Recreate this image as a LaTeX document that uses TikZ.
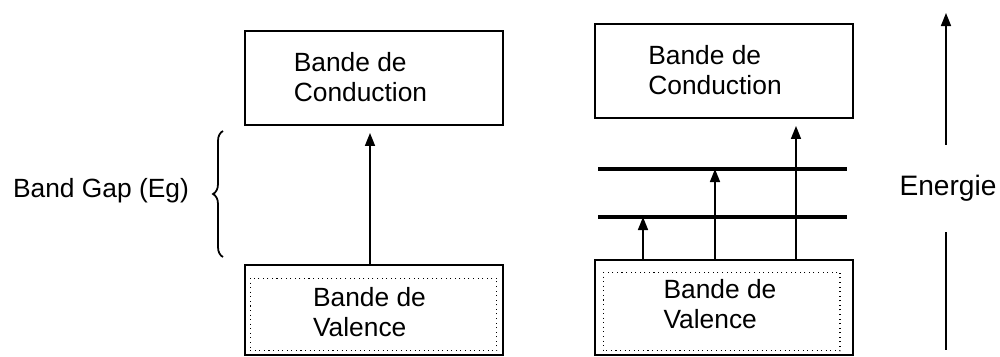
\documentclass[tikz,border=0pt]{standalone}
\usepackage{fontspec}
\setmainfont{Liberation Sans}
\usetikzlibrary{arrows.meta,decorations.pathreplacing}

\tikzset{
  bandbox/.style={draw, line width=1.1pt, minimum width=\boxwidth, minimum height=1.88cm, inner sep=0pt},
  bandtext/.style={align=left, inner sep=0pt, font=\fontsize{15}{17}\selectfont},
  level/.style={line width=1.8pt},
  jump/.style={line width=0.9pt, -{Triangle[length=0.26cm,width=0.2cm]}},
}

\begin{document}
\begin{tikzpicture}

% Define the width of the blocks
\def\boxwidth{5.16cm}

\useasboundingbox (0,0) rectangle (20,7.12);

% Draw left conduction block
\node[bandbox] (condA) at (7.48,5.56) {};
\node[bandtext] (condAtext) at (7.21,5.58) {Bande de\\Conduction};

% Draw left valence block
\node[bandbox, minimum height=1.8cm] (valA) at (7.48,0.92) {};
\draw[dotted, line width=0.6pt] ([shift={(0.12,-0.28)}]valA.north west) rectangle ([shift={(-0.14,0.1)}]valA.south east);
\node[bandtext] (valAtext) at (7.39,0.88) {Bande de\\Valence};

% Arrow across the gap
\draw[jump, shorten >=0.14cm] (valA.north -| 7.40,0) -- (condA.south -| 7.40,0);

% Brace and label for the gap
\draw[line width=1pt, decorate, decoration={brace, amplitude=0.2cm}] (4.46,1.98) -- (4.46,4.50);
\node[font=\fontsize{15}{17}\selectfont] (gap) at (2.02,3.30) {Band Gap (Eg)};

% Draw right conduction block
\node[bandbox] (condB) at (14.48,5.70) {};
\node[bandtext] (condBtext) at (14.30,5.72) {Bande de\\Conduction};

% Draw right valence block
\node[bandbox, minimum height=1.9cm] (valB) at (14.48,0.97) {};
\draw[dotted, line width=0.6pt] ([shift={(0.18,-0.26)}]valB.north west) rectangle ([shift={(-0.28,0.1)}]valB.south east);
\node[bandtext] (valBtext) at (14.40,1.04) {Bande de\\Valence};

% Intermediate levels
\coordinate (lowW) at (11.96,2.78);
\coordinate (lowE) at (16.94,2.78);
\coordinate (highW) at (11.96,3.74);
\coordinate (highE) at (16.94,3.74);
\draw[level] (lowW) -- (lowE);
\draw[level] (highW) -- (highE);

% Arrows from the valence band
\draw[jump] (valB.north -| 12.86,0) -- (lowW -| 12.86,0);
\draw[jump] (valB.north -| 14.30,0) -- (highW -| 14.30,0);
\draw[jump, shorten >=0.14cm] (valB.north -| 15.92,0) -- (condB.south -| 15.92,0);

% Energy axis
\node[font=\fontsize{16}{18}\selectfont, minimum height=1.74cm, inner sep=0pt] (energy) at (18.96,3.35) {Energie};
\coordinate (energyTop) at (18.92,6.86);
\coordinate (energyBot) at (18.92,0.12);
\draw[jump] (energy.north -| energyTop) -- (energyTop);
\draw[line width=0.9pt] (energy.south -| energyBot) -- (energyBot);

\end{tikzpicture}
\end{document}
